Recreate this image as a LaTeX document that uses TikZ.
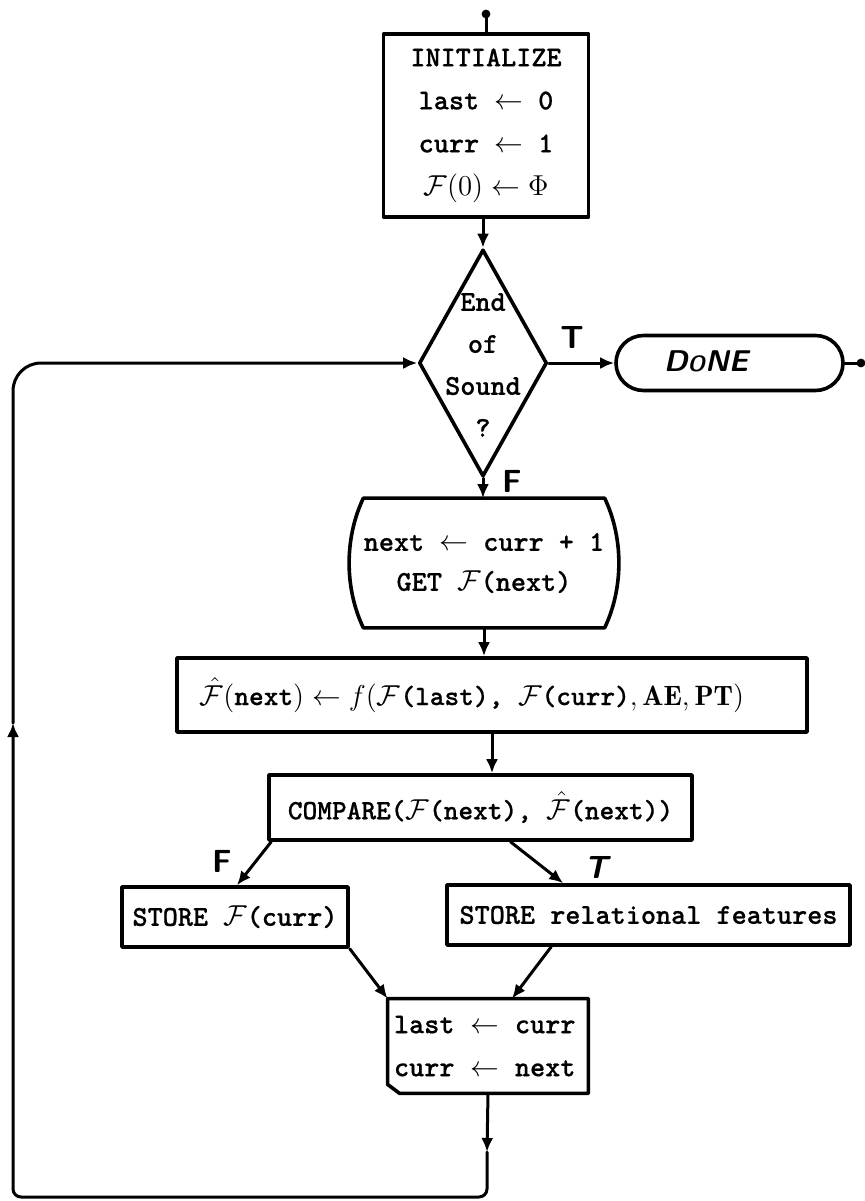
\documentclass[tikz,border=0pt]{standalone}
\usepackage{amsmath}
\usepackage{fontspec}
\usetikzlibrary{shapes.geometric,shapes.misc,arrows.meta,calc}
\newfontfamily\monob{lmmonolt10-bold.otf}[FakeBold=0.6]
\newcommand\boxfont{\fontsize{14.4}{21.5}\selectfont\monob}
\newcommand\tagfont{\fontsize{16}{16}\selectfont\sffamily\bfseries}
\begin{document}
\begin{tikzpicture}[x=0.5pt,y=-0.5pt,
  every node/.style={font=\boxfont},
  flow/.style={line width=1.5pt,line cap=round,line join=round},
  arr/.style={flow,-{Latex[length=7pt,width=6pt]}},
  outline/.style={line width=1.8pt,line join=round},
  proc/.style={draw,outline,rectangle,inner sep=0pt,align=center},
  tag/.style={font=\tagfont,inner sep=0pt}]
\useasboundingbox (0,0) rectangle (864,1201);

% entry point and initialisation
\coordinate (start) at (486,14);
\node[proc,minimum width=102.5pt,minimum height=91.5pt] (init) at (486,125.5)
  {INITIALIZE\\last $\leftarrow$ 0\\curr $\leftarrow$ 1\\$\mathcal{F}(0)\leftarrow\Phi$};
\fill (start) circle (2.2pt);
\draw[flow] (start) -- (init.north);

% end-of-sound test
\node[draw,diamond,outline,minimum width=64pt,minimum height=113.5pt,inner sep=0pt] (dec) at (483,363) {};
\node[align=center,inner sep=0pt,font=\fontsize{14.4}{21}\selectfont\monob] (dectxt) at (483,365) {End\\of\\Sound\\?};
\draw[arr] (dec.north |- init.south) -- (dec.north);

% termination
\node[draw,rounded rectangle,outline,minimum width=113.5pt,minimum height=27.5pt,inner sep=0pt] (done) at (729.5,363) {};
\node[font=\fontsize{15}{15}\selectfont\sffamily\bfseries\slshape,inner sep=0pt] (donetxt) at (706,361) {D{\fontsize{11}{11}\selectfont O}NE};
\coordinate (exitR) at (861,363);
\draw[arr] (dec.east) -- (done.west);
\node[tag] (tT) at (572,337) {T};
\draw[flow] (done.east) -- (exitR);
\fill (exitR) circle (2.2pt);

% read next frame
\node[minimum width=113.5pt,minimum height=64.5pt,inner sep=0pt,align=center,font=\fontsize{14.4}{20}\selectfont\monob] (getf) at (484,563)
  {next $\leftarrow$ curr + 1\\GET $\mathcal{F}$(next)};
\draw[outline] (getf.north west) -- (getf.north east)
  .. controls ($(getf.north east)+(19,40)$) and ($(getf.south east)+(19,-40)$) .. (getf.south east)
  -- (getf.south west)
  .. controls ($(getf.south west)+(-19,-40)$) and ($(getf.north west)+(-19,40)$) .. cycle;
\draw[arr] (dec.south) -- (dec.south |- getf.north);
\node[tag] (tF) at (512,481) {F};

% prediction
\node[proc,minimum width=315pt,minimum height=37pt,font=\fontsize{14}{16}\selectfont\monob] (pred) at (492,695)
  {\hspace{-20pt}$\hat{\mathcal{F}}(\mbox{next})\leftarrow f(\mathcal{F}$(last), $\mathcal{F}$(curr)$,\mathbf{AE},\mathbf{PT})$};
\draw[arr] (getf.south) -- (getf.south |- pred.north);

% comparison
\node[proc,minimum width=211.5pt,minimum height=32.5pt,font=\fontsize{14}{16}\selectfont\monob] (cmp) at (480.5,807.5)
  {COMPARE($\mathcal{F}$(next), $\hat{\mathcal{F}}$(next))};
\draw[arr] (pred.south) -- (pred.south |- cmp.north);

% storage branches
\node[proc,minimum width=113pt,minimum height=30pt] (storef) at (235,917) {STORE $\mathcal{F}$(curr)};
\node[proc,minimum width=201.5pt,minimum height=30pt] (storer) at (648.5,915) {STORE relational features};
\draw[arr] ([xshift=2pt]cmp.south west) -- ([xshift=1pt]storef.north);
\draw[arr] ([xshift=15pt]cmp.south) -- ([xshift=59pt]storer.north west);
\node[tag] (cF) at (222,861) {F};
\node[tag,font=\tagfont\slshape] (cT) at (596,867) {T};

% shift the frame window
\node[text width=94pt,inner xsep=3pt,inner ysep=0pt,minimum height=47pt,align=left] (last) at (488,1046)
  {last\hspace{0.55em}$\leftarrow$\hspace{0.55em}curr\\curr\hspace{0.55em}$\leftarrow$\hspace{0.55em}next};
\draw[outline] (last.north west) -- (last.north east) -- (last.south east)
  -- ($(last.south west)+(12,0)$) -- ($(last.south west)+(0,-9)$) -- cycle;
\draw[arr] (storef.south east) -- (last.north west);
\draw[arr] ([xshift=53pt]storer.south west) -- ([xshift=12pt]last.north);

% loop back to the test
\coordinate (mid) at (487,1152);
\coordinate (br) at (487,1197);
\coordinate (bl) at (13,1197);
\coordinate (up) at (13,723);
\coordinate (tl) at (13,363);
\draw[arr] (last.south) -- (mid);
\draw[arr,rounded corners=4pt] (mid) -- (br) -- (bl) -- (up);
\draw[arr,rounded corners=14pt] (up) -- (tl) -- (dec.west);
\end{tikzpicture}
\end{document}
